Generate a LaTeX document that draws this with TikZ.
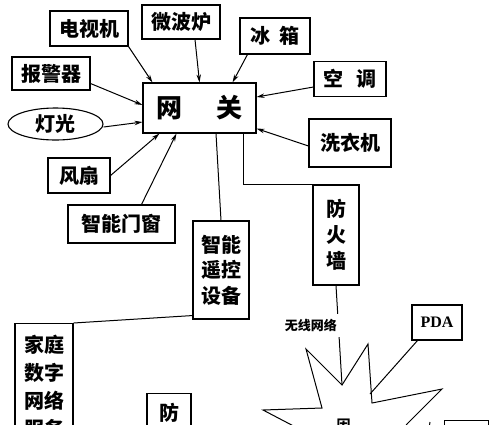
\documentclass[tikz,border=0pt]{standalone}
\usepackage{fontspec}
\setmainfont{Liberation Serif}
\newfontfamily\cjk{Noto Sans CJK SC}
\usepackage{tikz}
\usetikzlibrary{arrows.meta,shapes.geometric}

\tikzset{
  dev/.style={draw, line width=1.1pt, inner sep=0pt, align=center,
    font=\cjk\bfseries\fontsize{20}{25.5}\selectfont},
  sz/.style 2 args={minimum width=#1pt, minimum height=#2pt},
  arr/.style={line width=1pt, -{Stealth[length=8pt,width=4.5pt]}},
  wire/.style={line width=1pt}
}

\begin{document}
\begin{tikzpicture}[x=1pt, y=-1pt]
  \clip (0,0) rectangle (500,424);

  % devices round the gateway
  \node[dev, sz={113}{50}, font=\cjk\bfseries\fontsize{26}{30}\selectfont] (gate) at (199.5,108) {网\hspace{34pt}关};
  \node[dev, sz={78}{35}] (tv) at (89,28.5) {电视机};
  \node[dev, sz={78}{34}] (micro) at (181,22) {微波炉};
  \node[dev, sz={70}{36}] (fridge) at (275,36) {冰\hspace{9pt}箱};
  \node[dev, sz={78}{33}] (alarm) at (51,73.5) {报警器};
  \node[dev, ellipse, sz={95}{32}] (light) at (55.5,124) {灯光};
  \node[dev, sz={62}{35}] (fan) at (79,175.5) {风扇};
  \node[dev, sz={107}{38}] (window) at (121.5,224) {智能门窗};
  \node[dev, sz={72}{35}] (ac) at (350,79) {空\hspace{13pt}调};
  \node[dev, sz={82}{48}] (wash) at (350,143) {洗衣机};

  % lower part
  \node[dev, sz={56}{98}] (remote) at (221,270) {智能\\遥控\\设备};
  \node[dev, sz={46}{100}, font=\cjk\bfseries\fontsize{20}{26}\selectfont] (fire) at (336,235) {防\\火\\墙};
  \node[dev, sz={58}{130}, anchor=north] (home) at (44,323) {};
  \node[font=\cjk\bfseries\fontsize{20}{28}\selectfont, align=center, anchor=north] (hometxt) at (44,332) {家庭\\数字\\网络\\服务};
  \node[dev, sz={44}{100}, anchor=north] (fire2) at (169,393) {};
  \node[font=\cjk\bfseries\fontsize{20}{26}\selectfont] (fire2txt) at (169,413) {防};
  \node[dev, sz={50}{35}, font=\bfseries\fontsize{16}{18}\selectfont] (pda) at (437,322.5) {PDA};
  \node[dev, sz={44}{40}, anchor=north] (term) at (466.5,420) {};

  % internet star
  \draw[wire, fill=white] (263,410) -- (322,408) -- (306,349) -- (342,385) -- (368,344)
    -- (372,403) -- (442,389) -- (407,424) -- (395,440) -- (340,460) -- (305,432) -- cycle;
  \coordinate (net-top) at (342,385);
  \coordinate (net-pda) at (370,394);
  \coordinate (net-term) at (430,422);
  \node[font=\cjk\bfseries\fontsize{14}{16}\selectfont] (net) at (343.5,425) {因};

  % arrows into the gateway
  \draw[arr] (tv.south east) -- ([xshift=10pt]gate.north west);
  \draw[arr] ([xshift=14pt]micro.south) -- (gate.north);
  \draw[arr] ([xshift=8pt]fridge.south west) -- ([xshift=-24pt]gate.north east);
  \draw[arr] ([yshift=-10pt]alarm.east) -- ([yshift=3pt]gate.west);
  \draw[arr] ([yshift=-3pt]light.east) -- ([yshift=-14pt]gate.west);
  \draw[arr] (fan.east) -- ([xshift=17pt]gate.south west);
  \draw[arr] ([xshift=20pt]window.north) -- ([xshift=34pt]gate.south west);
  \draw[arr] ([yshift=-8pt]ac.west) -- ([yshift=11pt]gate.east);
  \draw[arr] ([yshift=-3pt]wash.west) -- ([yshift=5pt]gate.south east);

  % other links
  \draw[wire] ([xshift=16.5pt]gate.south) -- (remote.north);
  \draw[wire] ([xshift=-13pt]gate.south east) |- (fire.north west);
  \draw[wire] ([yshift=4pt]remote.south west) -- (home.north east);
  \draw[wire] (fire.south) -- (net-top)
    node[pos=0.4, anchor=east, fill=white, inner xsep=3pt, inner ysep=5pt, xshift=2pt,
      font=\cjk\bfseries\fontsize{13}{15}\selectfont] (wl) {无线网络};
  \draw[wire] ([xshift=6pt]pda.south west) -- (net-pda);
  \draw[wire] (net-term) -- ++(-1,6);
\end{tikzpicture}
\end{document}
